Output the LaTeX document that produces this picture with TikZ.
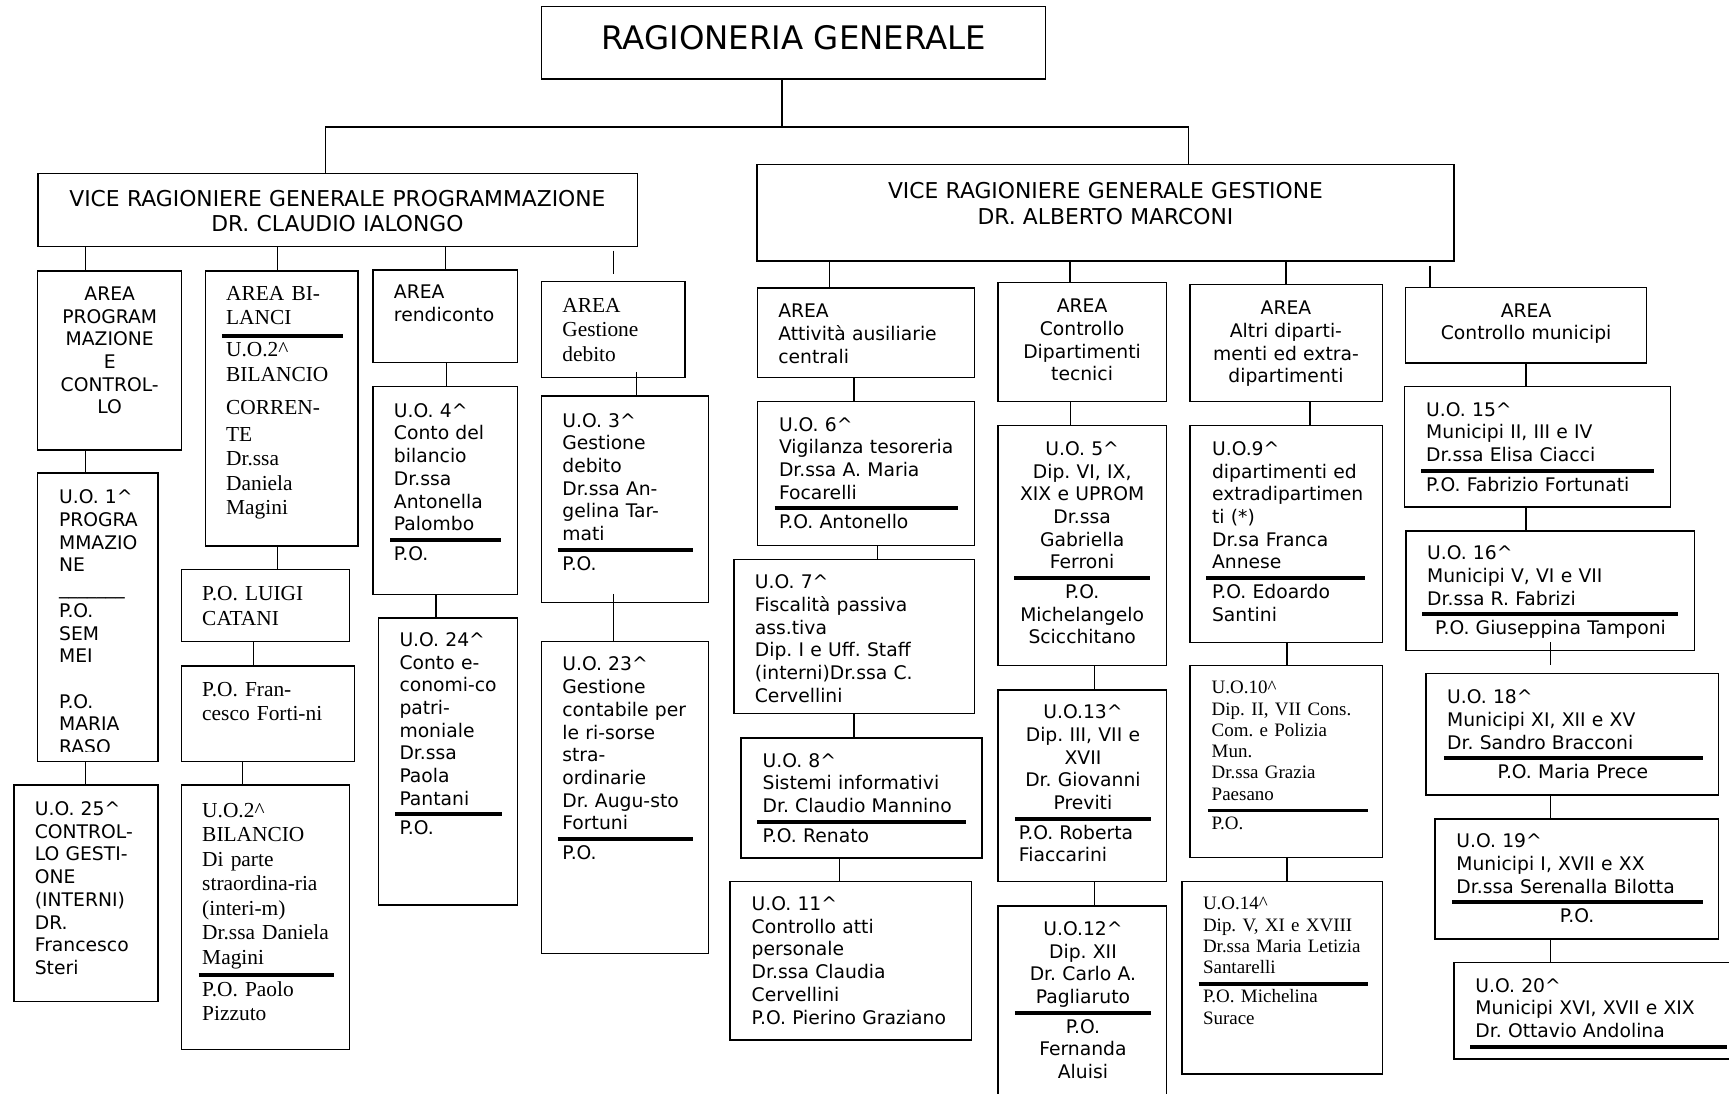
\documentclass[tikz,border=0pt]{standalone}
\usepackage{fontspec}
\newfontfamily\orgsans{DejaVu Sans}
\newfontfamily\orgserif{Liberation Serif}
\usetikzlibrary{fit}
\frenchspacing

% thick rule under the head of a unit, then the P.O. line
\newcommand\sepbar[2][0pt]{\\[\sepup]\hspace*{#1}\rule{#2}{1.8pt}\\[\sepdown]}
% vertical connector at a given x between two boxes
\newcommand\vlink[4][]{\draw[link,#1] (#2,0 |- #3.south) -- (#2,0 |- #4.north);}

\begin{document}
\begin{tikzpicture}[x=0.5pt, y=-0.5pt,
  orgbox/.style={draw, line width=0.65pt, inner sep=0pt},
  link/.style={draw, line width=0.65pt},
  txtbase/.style={inner sep=0pt, text width=240pt, align=left, anchor=north west},
  sanstxt/.style={txtbase, yshift=7.21pt, font=\orgsans\fontsize{8.5}{10.3}\selectfont,
    execute at begin node={\def\sepup{-5.3pt}\def\sepdown{-1.95pt}\strut}},
  sansmid/.style={sanstxt, anchor=north, align=center},
  seriftxt/.style={txtbase, yshift=7.77pt, font=\orgserif\fontsize{9.7}{11.1}\selectfont,
    execute at begin node={\def\sepup{-5.3pt}\def\sepdown{-2.4pt}\strut}},
  smalltxt/.style={txtbase, yshift=6.755pt, font=\orgserif\fontsize{8.6}{9.65}\selectfont,
    execute at begin node={\def\sepup{-4.1pt}\def\sepdown{-1.95pt}\strut}},
  vicetxt/.style={txtbase, text width=300pt, anchor=north, align=center, yshift=8.12pt,
    font=\orgsans\fontsize{9.9}{11.6}\selectfont, execute at begin node=\strut},
  titletxt/.style={inner sep=0pt, anchor=base, font=\orgsans\fontsize{14.7}{17}\selectfont}]
\useasboundingbox (0,0) rectangle (1568,992);

% boxes
\node[orgbox, fit={(491,6) (948,71.6)}] (rg) {};
\node[orgbox, fit={(34.5,157.5) (578,223.7)}] (vrgp) {};
\node[orgbox, fit={(686.5,149.3) (1318.5,236.7)}] (vrgg) {};

\node[orgbox, fit={(34.2,245.8) (164.8,408.1)}] (aprog) {};
\node[orgbox, fit={(186.4,245.8) (324.5,495.2)}] (abil) {};
\node[orgbox, fit={(338.2,244.9) (469.2,328.9)}] (arend) {};
\node[orgbox, fit={(490.9,255.4) (621.1,342.5)}] (adeb) {};
\node[orgbox, fit={(34.2,429) (143.1,690.8)}] (uo1) {};
\node[orgbox, fit={(12.5,712) (143.1,908.2)}] (uo25) {};
\node[orgbox, fit={(164.8,516.5) (317,581.9)}] (catani) {};
\node[orgbox, fit={(164.8,603.8) (321.6,690.8)}] (fortini) {};
\node[orgbox, fit={(164.8,712) (317,952)}] (uo2s) {};
\node[orgbox, fit={(338.2,350.7) (469.2,539)}] (uo4) {};
\node[orgbox, fit={(343.2,560.3) (469.2,820.9)}] (uo24) {};
\node[orgbox, fit={(490.9,359.1) (642.7,546.4)}] (uo3) {};
\node[orgbox, fit={(490.9,581.9) (642.7,864.7)}] (uo23) {};

\node[orgbox, fit={(686.7,261.2) (883.7,342.5)}] (aatt) {};
\node[orgbox, fit={(905,256.3) (1058,364.3)}] (actrl) {};
\node[orgbox, fit={(1079,257.9) (1253.6,364.3)}] (aaltri) {};
\node[orgbox, fit={(1274.8,260.6) (1493,329.2)}] (amun) {};
\node[orgbox, fit={(686.7,364.3) (883.7,494.9)}] (uo6) {};
\node[orgbox, fit={(665.5,507.3) (883.7,647)}] (uo7) {};
\node[orgbox, fit={(672,669.3) (890.7,778)}] (uo8) {};
\node[orgbox, fit={(662,799.6) (881,943)}] (uo11) {};
\node[orgbox, fit={(905,386) (1058,603.7)}] (uo5) {};
\node[orgbox, fit={(905,625.7) (1058,799.6)}] (uo13) {};
\node[orgbox, fit={(905,821.6) (1058,1000)}] (uo12) {};
\node[orgbox, fit={(1079,386) (1253.6,582.5)}] (uo9) {};
\node[orgbox, fit={(1079,603.7) (1254,777.8)}] (uo10) {};
\node[orgbox, fit={(1072,799.6) (1254,974)}] (uo14) {};
\node[orgbox, fit={(1273.8,350.7) (1514.8,459.8)}] (uo15) {};
\node[orgbox, fit={(1275,481.6) (1536.5,590)}] (uo16) {};
\node[orgbox, fit={(1293.2,611) (1558.3,721)}] (uo18) {};
\node[orgbox, fit={(1301.4,742.7) (1558.3,851.5)}] (uo19) {};
\node[orgbox, fit={(1318.6,872.7) (1590,960.4)}] (uo20) {};

% texts
\node[titletxt] (rgt) at (720,45.3) {RAGIONERIA GENERALE};
\node[vicetxt] (vrgpt) at (306,186.5) {VICE RAGIONIERE GENERALE PROGRAMMAZIONE\\ DR. CLAUDIO IALONGO};
\node[vicetxt] (vrggt) at (1002.5,180) {VICE RAGIONIERE GENERALE GESTIONE\\ DR. ALBERTO MARCONI};

\node[sansmid] (aprogt) at (99.5,272) {AREA\\ PROGRAM\\ MAZIONE\\ E\\ CONTROL-\\ LO};
\node[seriftxt] (abilt) at (204.7,272) {AREA BI-\\ LANCI\sepbar[-1.9pt]{54.7pt}U.O.2\textasciicircum\\ BILANCIO\\[4pt] CORREN-\\[1pt] TE\\ Dr.ssa\\ Daniela\\ Magini};
\node[sanstxt] (arendt) at (356.9,270.5) {AREA\\ rendiconto};
\node[seriftxt] (adebt) at (509.6,282.6) {AREA\\ Gestione\\ debito};
\begin{scope}
  \clip (34.2,429) rectangle (143.1,681.5);
  \node[sanstxt] (uo1t) at (53.2,456.5) {U.O. 1\textasciicircum\\ PROGRA\\ MMAZIO\\ NE\\ \_\_\_\_\_\_\_\\ P.O.\\ SEM\\ MEI\\[10.3pt] P.O.\\ MARIA\\ RASO};
\end{scope}
\node[sanstxt] (uo25t) at (31.2,739.2) {U.O. 25\textasciicircum\\ CONTROL-\\ LO GESTI-\\ ONE\\ (INTERNI)\\ DR.\\ Francesco\\ Steri};
\node[seriftxt] (catanit) at (183,544.2) {P.O. LUIGI\\ CATANI};
\node[seriftxt] (fortinit) at (183,631.2) {P.O. Fran-\\ cesco Forti-ni};
\node[seriftxt] (uo2st) at (183,740.7) {U.O.2\textasciicircum\\ BILANCIO\\ Di parte\\ straordina-ria\\ (interi-m)\\ Dr.ssa Daniela\\ Magini\sepbar[-1.65pt]{61.35pt}P.O. Paolo\\ Pizzuto};
\node[sanstxt] (uo4t) at (356.9,377.9) {U.O. 4\textasciicircum\\ Conto del\\ bilancio\\ Dr.ssa\\ Antonella\\ Palombo\sepbar[-1.65pt]{50.3pt}P.O.};
\node[sanstxt] (uo24t) at (361.9,585.8) {U.O. 24\textasciicircum\\ Conto e-\\ conomi-co\\ patri-\\ moniale\\ Dr.ssa\\ Paola\\ Pantani\sepbar[-2pt]{48.5pt}P.O.};
\node[sanstxt] (uo3t) at (509.6,386.9) {U.O. 3\textasciicircum\\ Gestione\\ debito\\ Dr.ssa An-\\ gelina Tar-\\ mati\sepbar[-2.1pt]{61.4pt}P.O.};
\node[sanstxt] (uo23t) at (509.6,608) {U.O. 23\textasciicircum\\ Gestione\\ contabile per\\ le ri-sorse\\ stra-\\ ordinarie\\ Dr. Augu-sto\\ Fortuni\sepbar[-2.1pt]{61.4pt}P.O.};

\node[sanstxt] (aattt) at (705.4,287.8) {AREA\\ Attività ausiliarie\\ centrali};
\node[sansmid] (actrlt) at (981.3,283.2) {AREA\\ Controllo\\ Dipartimenti\\ tecnici};
\node[sansmid] (aaltrit) at (1166.2,285) {AREA\\ Altri diparti-\\ menti ed extra-\\ dipartimenti};
\node[sansmid] (amunt) at (1384,287.2) {AREA\\ Controllo municipi};
\node[sanstxt] (uo6t) at (706.1,390.6) {U.O. 6\textasciicircum\\ Vigilanza tesoreria\\ Dr.ssa A. Maria\\ Focarelli\sepbar[-2pt]{83.3pt}P.O. Antonello};
\node[sanstxt] (uo7t) at (684.2,533.5) {U.O. 7\textasciicircum\\ Fiscalità passiva\\ ass.tiva\\ Dip. I e Uff. Staff\\ (interni)Dr.ssa C.\\ Cervellini};
\node[sanstxt] (uo8t) at (691.2,695.3) {U.O. 8\textasciicircum\\ Sistemi informativi\\ Dr. Claudio Mannino\sepbar[-2.35pt]{94.6pt}P.O. Renato};
\node[sanstxt] (uo11t) at (681.3,825.3) {U.O. 11\textasciicircum\\ Controllo atti\\ personale\\ Dr.ssa Claudia\\ Cervellini\\ P.O. Pierino Graziano};
\node[sansmid] (uo5t) at (981.4,412.6) {U.O. 5\textasciicircum\\ Dip. VI, IX,\\ XIX e UPROM\\ Dr.ssa\\ Gabriella\\ Ferroni\sepbar{61.8pt}P.O.\\ Michelangelo\\ Scicchitano};
\node[sansmid] (uo13t) at (982.1,651.4) {U.O.13\textasciicircum\\ Dip. III, VII e\\ XVII\\ Dr. Giovanni\\ Previti\sepbar{61.85pt}\makebox[61.85pt][l]{\hspace*{1.9pt}P.O. Roberta}\\ \makebox[61.85pt][l]{\hspace*{1.9pt}Fiaccarini}};
\node[sansmid] (uo12t) at (982.1,847.9) {U.O.12\textasciicircum\\ Dip. XII\\ Dr. Carlo A.\\ Pagliaruto\sepbar{61.85pt}P.O.\\ Fernanda\\ Aluisi};
\node[sanstxt] (uo9t) at (1098.8,412.6) {U.O.9\textasciicircum\\ dipartimenti ed\\ extradipartimen\\ ti (*)\\ Dr.sa Franca\\ Annese\sepbar[-2.55pt]{72.1pt}P.O. Edoardo\\ Santini};
\node[smalltxt] (uo10t) at (1098.5,628.8) {U.O.10\textasciicircum\\ Dip. II, VII Cons.\\ Com. e Polizia\\ Mun.\\ Dr.ssa Grazia\\ Paesano\sepbar[-1.8pt]{72.75pt}P.O.};
\node[smalltxt] (uo14t) at (1090.6,824.7) {U.O.14\textasciicircum\\ Dip. V, XI e XVIII\\ Dr.ssa Maria Letizia\\ Santarelli\sepbar[-1.95pt]{76.85pt}P.O. Michelina\\ Surace};
\node[sanstxt] (uo15t) at (1293,377) {U.O. 15\textasciicircum\\ Municipi II, III e IV\\ Dr.ssa Elisa Ciacci\sepbar[-2.15pt]{105.6pt}P.O. Fabrizio Fortunati};
\node[sanstxt] (uo16t) at (1293.8,507.2) {U.O. 16\textasciicircum\\ Municipi V, VI e VII\\ Dr.ssa R. Fabrizi\sepbar[-2.1pt]{115.9pt}\makebox[111.9pt]{P.O. Giuseppina Tamponi}};
\node[sanstxt] (uo18t) at (1312,637.8) {U.O. 18\textasciicircum\\ Municipi XI, XII e XV\\ Dr. Sandro Bracconi\sepbar[-1.5pt]{117.5pt}\makebox[114pt]{P.O. Maria Prece}};
\node[sanstxt] (uo19t) at (1320.4,768.4) {U.O. 19\textasciicircum\\ Municipi I, XVII e XX\\ Dr.ssa Serenalla Bilotta\sepbar[-1.8pt]{113.6pt}\makebox[109.4pt]{P.O.}};
\node[sanstxt] (uo20t) at (1337.6,899.3) {U.O. 20\textasciicircum\\ Municipi XVI, XVII e XIX\\ Dr. Ottavio Andolina\sepbar[-2.3pt]{116.5pt}};

% connectors
\coordinate (fork) at (709,115);
\draw[link] (709,0 |- rg.south) -- (fork);
\draw[link] (295,0 |- vrgp.north) |- (fork) -| (1078,0 |- vrgg.north);

\vlink{77.4}{vrgp}{aprog}
\vlink{251.7}{vrgp}{abil}
\vlink{403.8}{vrgp}{arend}
\vlink[shorten <=1.5pt, shorten >=3pt]{556.5}{vrgp}{adeb}
\vlink{77.4}{aprog}{uo1}
\vlink{77.4}{uo1}{uo25}
\vlink{251.7}{abil}{catani}
\vlink{230}{catani}{fortini}
\vlink{220}{fortini}{uo2s}
\vlink{404.8}{arend}{uo4}
\vlink{395.2}{uo4}{uo24}
\vlink[shorten <=-3pt]{577.4}{adeb}{uo3}
\vlink[shorten <=-4.2pt]{556.2}{uo3}{uo23}

\vlink{752.5}{vrgg}{aatt}
\vlink{970.5}{vrgg}{actrl}
\vlink{1166.3}{vrgg}{aaltri}
\vlink[shorten <=1.8pt]{1297}{vrgg}{amun}
\vlink{774.5}{aatt}{uo6}
\vlink{796}{uo6}{uo7}
\vlink{774.4}{uo7}{uo8}
\vlink{761.4}{uo8}{uo11}
\vlink{970.6}{actrl}{uo5}
\vlink{992.8}{uo5}{uo13}
\vlink{992.8}{uo13}{uo12}
\vlink{1188}{aaltri}{uo9}
\vlink{1167}{uo9}{uo10}
\vlink{1167}{uo10}{uo14}
\vlink{1384}{amun}{uo15}
\vlink{1384}{uo15}{uo16}
\vlink[shorten <=-4pt, shorten >=3.5pt]{1406}{uo16}{uo18}
\vlink{1406}{uo18}{uo19}
\vlink{1406}{uo19}{uo20}
\end{tikzpicture}
\end{document}
